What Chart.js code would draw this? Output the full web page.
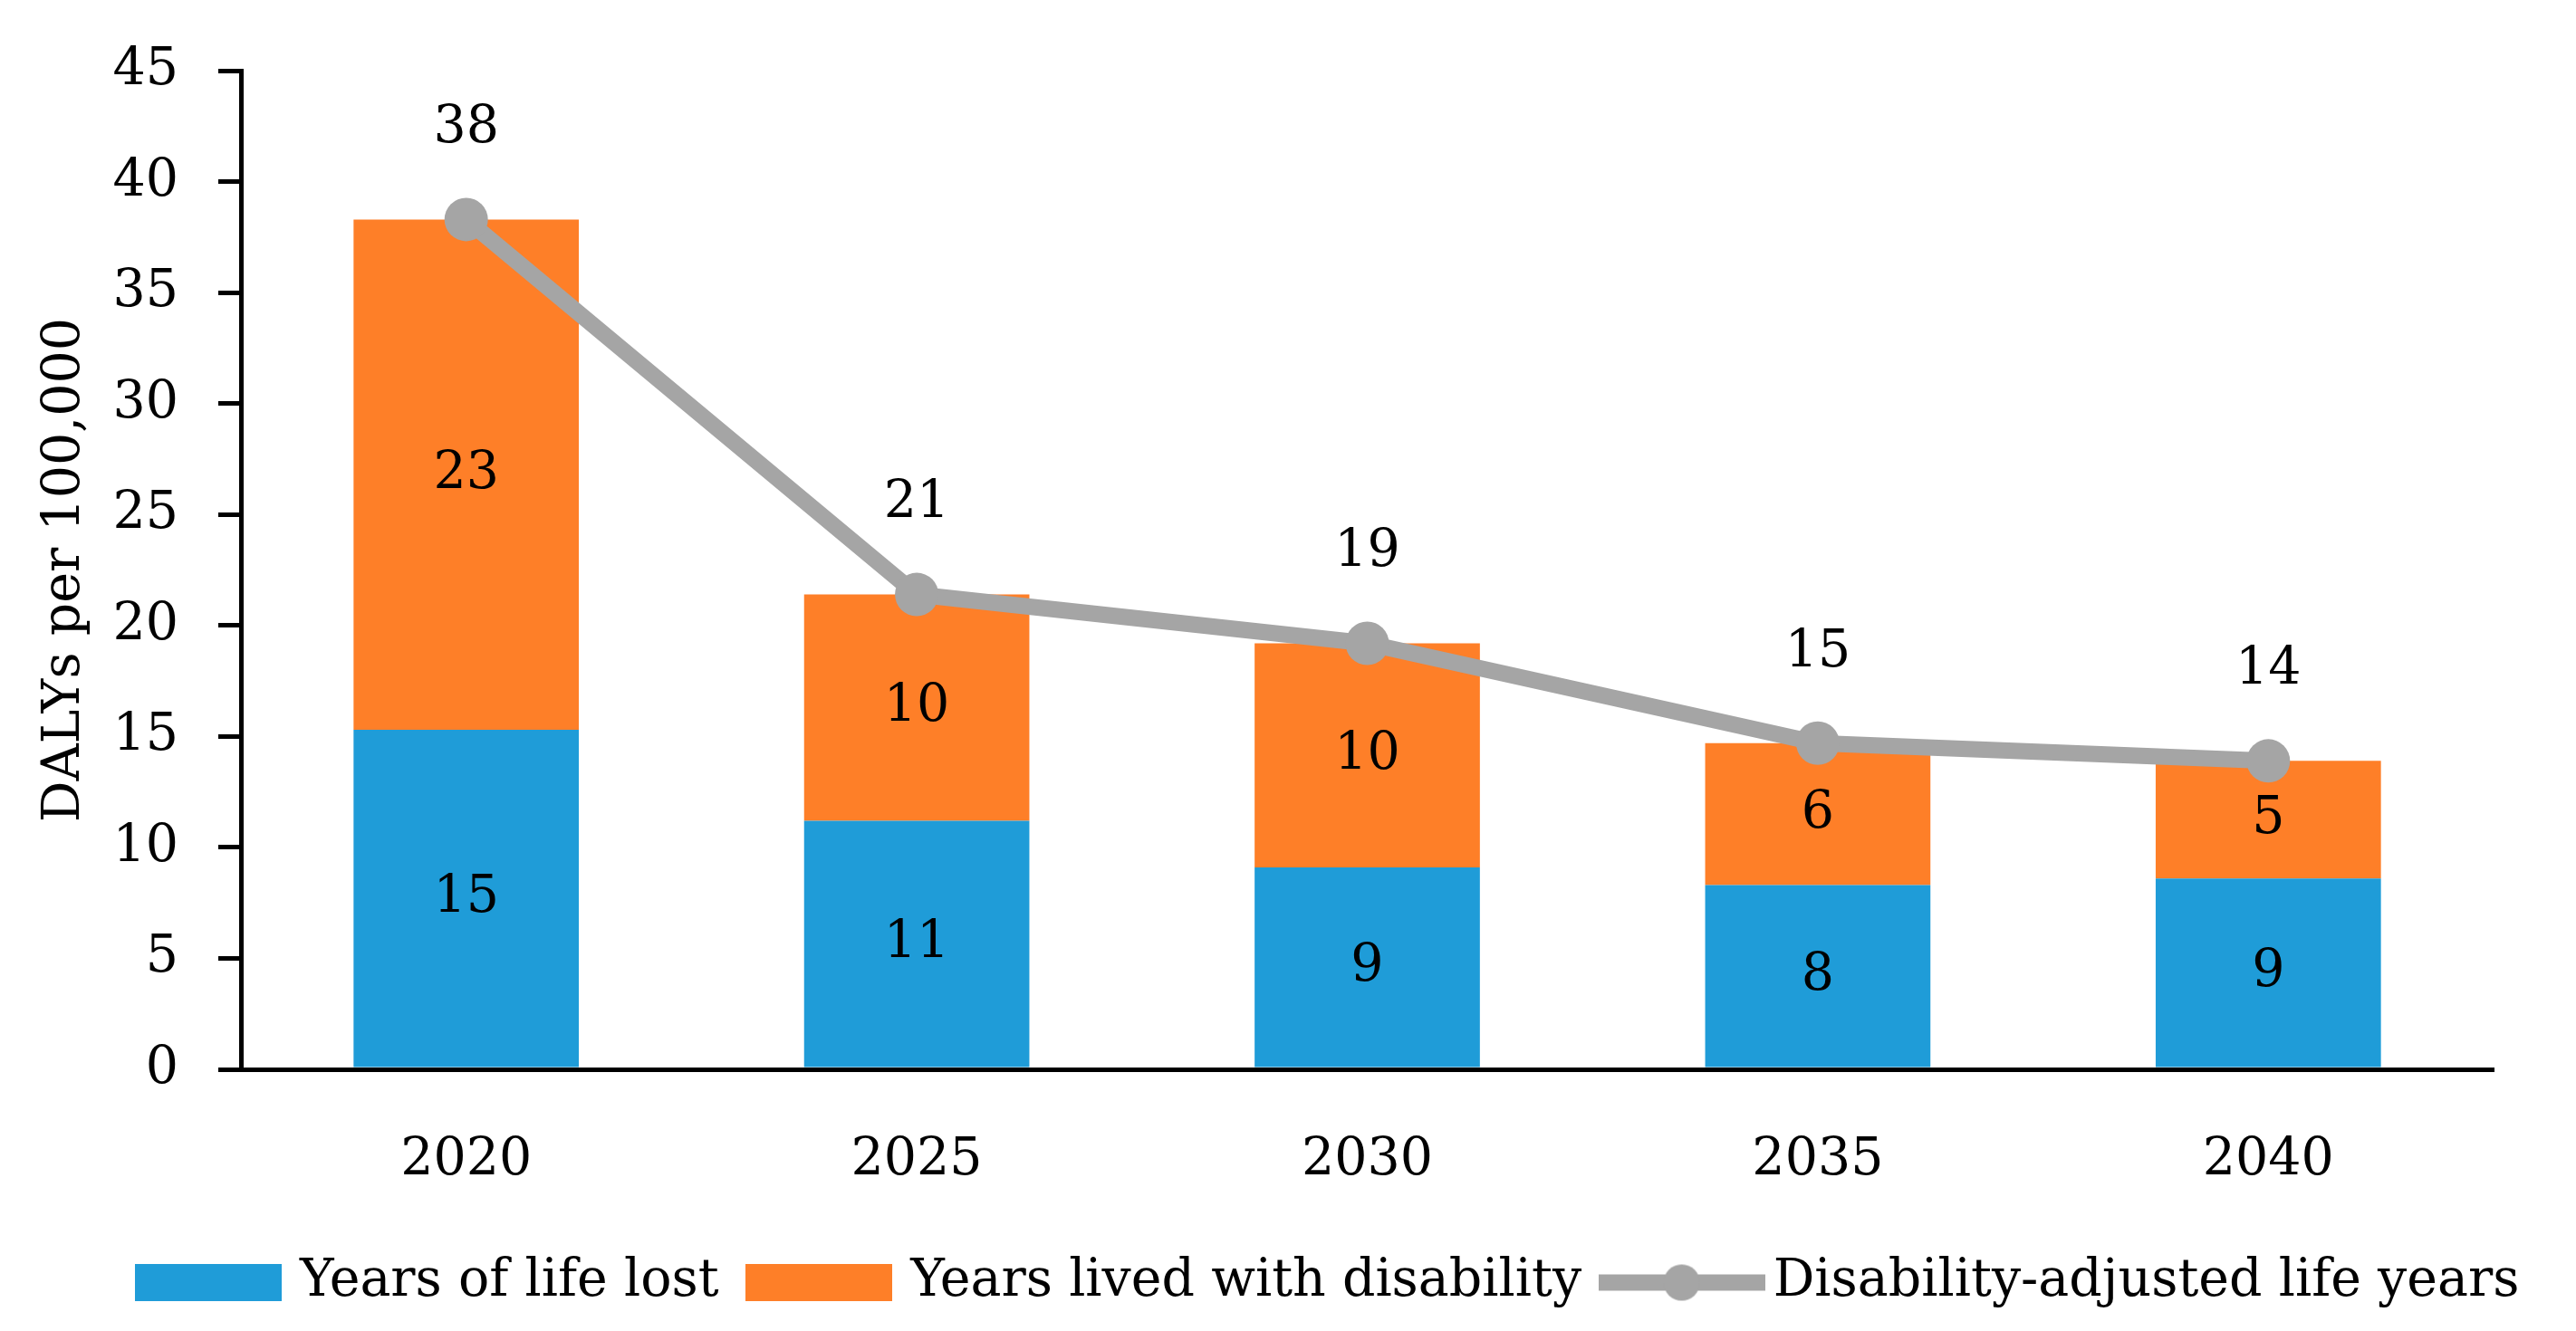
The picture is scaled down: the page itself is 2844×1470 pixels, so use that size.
<!DOCTYPE html>
<html>
<head>
<meta charset="utf-8">
<title>DALYs per 100,000</title>
<script src="https://cdn.jsdelivr.net/npm/chart.js@4.4.1/dist/chart.umd.min.js"></script>
<style>
  html, body { margin: 0; padding: 0; background: #fff; }
  #wrap { width: 2844px; height: 1470px; }
</style>
</head>
<body>
<div id="wrap"><canvas id="myChart"></canvas></div>
<script>
// data
const years = ['2020', '2025', '2030', '2035', '2040'];
const yearsOfLifeLost = [15.3, 11.2, 9.1, 8.3, 8.6];
const yearsLivedWithDisability = [23.0, 10.2, 10.1, 6.4, 5.3];
const dalys = [38.3, 21.4, 19.2, 14.7, 13.9];
const yMax = 45;
const yStep = 5;

const blue = '#1F9CD8';
const orange = '#FE7F28';
const gray = '#A5A5A5';
const fontFamily = '"DejaVu Serif", "Liberation Serif", serif';
const fontSize = 57;

Chart.defaults.font.family = fontFamily;
Chart.defaults.font.size = fontSize;
Chart.defaults.color = '#000';

// little canvases used as legend swatches
function swatch(w, h, draw) {
  const c = document.createElement('canvas');
  c.width = w;
  c.height = h;
  draw(c.getContext('2d'), w, h);
  return c;
}
const blueBox = swatch(162, 41, (g, w, h) => { g.fillStyle = blue; g.fillRect(0, 0, w, h); });
const orangeBox = swatch(162, 41, (g, w, h) => { g.fillStyle = orange; g.fillRect(0, 0, w, h); });
const lineMark = swatch(184, 42, (g, w, h) => {
  g.strokeStyle = gray;
  g.lineWidth = 18;
  g.beginPath();
  g.moveTo(0, h / 2);
  g.lineTo(w, h / 2);
  g.stroke();
  g.fillStyle = gray;
  g.beginPath();
  g.arc(w / 2, h / 2, 20, 0, Math.PI * 2);
  g.fill();
});
const swatches = [blueBox, orangeBox, lineMark];

// numbers on the bars and above the line
const valueLabels = {
  id: 'valueLabels',
  afterDatasetsDraw(chart) {
    const ctx = chart.ctx;
    ctx.save();
    ctx.font = fontSize + 'px ' + fontFamily;
    ctx.fillStyle = '#000';
    ctx.textAlign = 'center';
    ctx.textBaseline = 'middle';
    chart.data.datasets.forEach((ds, i) => {
      const meta = chart.getDatasetMeta(i);
      meta.data.forEach((el, j) => {
        const txt = String(Math.round(ds.data[j]));
        if (ds.type === 'line') {
          ctx.fillText(txt, el.x, el.y - 100);
        } else {
          ctx.fillText(txt, el.x, (el.y + el.base) / 2);
        }
      });
    });
    ctx.restore();
  }
};

// legend sits right of centre in the original
const legendShift = {
  id: 'legendShift',
  afterLayout(chart) {
    chart.legend.left += 93;
    chart.legend.right += 93;
  }
};

let myChart = document.getElementById('myChart').getContext('2d');

let newChart = new Chart(myChart, {
  data: {
    labels: years,
    datasets: [
      {
        type: 'bar',
        label: 'Years of life lost',
        data: yearsOfLifeLost,
        backgroundColor: blue,
        order: 1
      },
      {
        type: 'bar',
        label: 'Years lived with disability',
        data: yearsLivedWithDisability,
        backgroundColor: orange,
        order: 2
      },
      {
        type: 'line',
        label: 'Disability-adjusted life years',
        data: dalys,
        borderColor: gray,
        borderWidth: 18,
        pointRadius: 24,
        pointBackgroundColor: gray,
        pointBorderWidth: 0,
        tension: 0,
        order: 0
      }
    ]
  },
  options: {
    responsive: true,
    maintainAspectRatio: false,
    animation: false,
    devicePixelRatio: 1,
    datasets: {
      bar: { barPercentage: 0.5, categoryPercentage: 1 }
    },
    layout: {
      padding: { top: 58, right: 91, bottom: 15, left: 0 }
    },
    scales: {
      x: {
        stacked: true,
        grid: { display: true, drawOnChartArea: false, drawTicks: false },
        border: { display: true, color: '#000', width: 5 },
        ticks: { padding: 67, color: '#000' },
        afterFit(scale) { scale.height = 169; }
      },
      y: {
        stacked: true,
        min: 0,
        max: yMax,
        ticks: { stepSize: yStep, padding: 44, color: '#000' },
        grid: {
          drawOnChartArea: false,
          drawTicks: true,
          tickLength: 25,
          color: '#000',
          lineWidth: 5
        },
        border: { display: true, color: '#000', width: 5 },
        title: {
          display: true,
          text: 'DALYs per 100,000',
          color: '#000',
          padding: { top: 38, bottom: 0 }
        },
        afterFit(scale) { scale.width = 266; }
      }
    },
    plugins: {
      tooltip: { enabled: false },
      legend: {
        position: 'bottom',
        labels: {
          usePointStyle: true,
          pointStyleWidth: 145,
          padding: 38,
          color: '#000',
          generateLabels(chart) {
            return chart.data.datasets.map((ds, i) => ({
              text: ds.label,
              pointStyle: swatches[i],
              fillStyle: 'transparent',
              strokeStyle: 'transparent',
              lineWidth: 0,
              fontColor: '#000',
              datasetIndex: i,
              hidden: false
            }));
          }
        }
      }
    }
  },
  plugins: [valueLabels, legendShift]
});
</script>
</body>
</html>
